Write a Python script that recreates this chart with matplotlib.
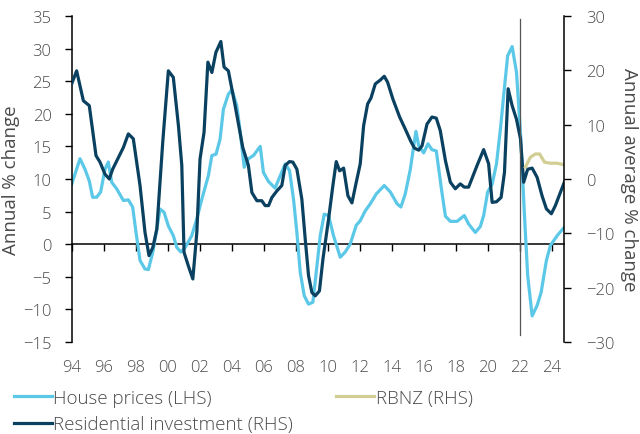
import matplotlib
matplotlib.use("Agg")
import matplotlib.pyplot as plt

plt.rcParams['font.family'] = ['Open Sans', 'DejaVu Sans']
plt.rcParams['font.weight'] = 'light'

# House prices (LHS) - annual % change, vertices (year, value)
hp_year = [1994.00, 1994.52, 1994.83, 1995.10, 1995.31, 1995.56, 1995.81, 1996.08, 1996.29, 1996.50,
           1996.81, 1997.23, 1997.54, 1997.81, 1998.02, 1998.27, 1998.58, 1998.79, 1999.07, 1999.32,
           1999.52, 1999.77, 2000.04, 2000.35, 2000.57, 2000.82, 2001.09, 2001.50, 2001.82, 2002.13,
           2002.54, 2002.76, 2003.02, 2003.27, 2003.48, 2003.79, 2004.01, 2004.32, 2004.53, 2004.78,
           2005.04, 2005.36, 2005.78, 2005.98, 2006.30, 2006.71, 2007.03, 2007.34, 2007.61, 2007.86,
           2008.07, 2008.28, 2008.53, 2008.80, 2009.07, 2009.28, 2009.53, 2009.78, 2010.05, 2010.36,
           2010.78, 2011.09, 2011.40, 2011.78, 2012.03, 2012.34, 2012.66, 2013.03, 2013.53, 2013.91,
           2014.33, 2014.57, 2014.84, 2015.16, 2015.36, 2015.51, 2015.68, 2015.99, 2016.26, 2016.51,
           2016.78, 2017.10, 2017.35, 2017.66, 2018.08, 2018.53, 2018.80, 2019.22, 2019.53, 2019.74,
           2019.99, 2020.27, 2020.54, 2020.79, 2020.99, 2021.24, 2021.52, 2021.79, 2022.04, 2022.29,
           2022.49, 2022.77, 2023.08, 2023.33, 2023.66, 2023.91, 2024.33, 2024.78]
hp_val = [9.2, 13.1, 11.5, 9.7, 7.2, 7.2, 8.0, 11.5, 12.6, 9.5,
          8.5, 6.7, 6.8, 5.7, 1.8, -2.5, -3.8, -3.9, -1.2, 2.3,
          5.4, 4.9, 2.8, 1.3, -0.5, -1.2, -0.5, 1.3, 3.9, 6.9,
          10.5, 13.6, 13.8, 16.1, 20.7, 23.0, 23.7, 21.2, 17.2, 11.8,
          13.1, 13.6, 15.0, 11.0, 9.6, 8.6, 10.5, 12.3, 11.3, 6.9,
          1.8, -4.3, -7.9, -9.2, -8.9, -4.3, 1.3, 4.6, 4.4, 1.3,
          -2.0, -1.2, 0.0, 2.9, 3.6, 5.1, 6.2, 7.7, 9.0, 8.0,
          6.2, 5.7, 7.7, 11.5, 14.9, 17.3, 15.1, 14.0, 15.4, 14.5,
          14.3, 8.5, 4.3, 3.5, 3.5, 4.4, 3.1, 1.8, 2.7, 4.4,
          8.0, 9.2, 12.3, 17.7, 22.8, 28.9, 30.3, 26.4, 17.2, 4.4,
          -4.8, -11.0, -9.4, -7.4, -2.5, -0.2, 1.3, 2.6]

# Residential investment (RHS) - annual average % change
ri_year = [1994.00, 1994.31, 1994.73, 1995.10, 1995.52, 1995.77, 1996.08, 1996.35, 1996.56, 1997.23,
           1997.54, 1997.85, 1998.27, 1998.58, 1998.83, 1999.07, 1999.32, 1999.69, 2000.04, 2000.35,
           2000.67, 2000.88, 2001.02, 2001.29, 2001.57, 2001.82, 2002.02, 2002.27, 2002.51, 2002.76,
           2003.01, 2003.32, 2003.52, 2003.79, 2004.21, 2004.69, 2005.04, 2005.26, 2005.57, 2005.88,
           2006.09, 2006.30, 2006.51, 2006.82, 2007.13, 2007.34, 2007.61, 2007.82, 2008.07, 2008.38,
           2008.59, 2008.80, 2009.01, 2009.22, 2009.48, 2009.70, 2010.05, 2010.32, 2010.53, 2010.74,
           2010.99, 2011.26, 2011.51, 2011.78, 2012.03, 2012.24, 2012.49, 2012.70, 2012.97, 2013.28,
           2013.53, 2013.74, 2014.07, 2014.49, 2014.84, 2015.16, 2015.41, 2015.68, 2015.89, 2016.20,
           2016.51, 2016.78, 2017.03, 2017.35, 2017.66, 2017.97, 2018.28, 2018.53, 2018.80, 2019.33,
           2019.74, 2020.05, 2020.27, 2020.54, 2020.83, 2021.04, 2021.27, 2021.52, 2021.79, 2022.04,
           2022.24, 2022.49, 2022.77, 2023.08, 2023.39, 2023.66, 2023.97, 2024.22, 2024.53, 2024.78]
ri_val = [17.5, 19.9, 14.4, 13.5, 4.3, 3.1, 0.9, 0.0, 1.8, 5.8,
          8.3, 7.4, -1.2, -9.8, -14.1, -12.6, -9.2, 6.8, 19.9, 18.7,
          9.8, 2.5, -13.5, -16.0, -18.4, -9.8, 3.7, 8.6, 21.5, 19.6,
          23.3, 25.3, 20.6, 19.9, 13.5, 5.8, 2.5, -2.5, -4.0, -4.0,
          -4.9, -4.9, -3.4, -2.2, -1.2, 2.5, 3.2, 3.1, 1.8, -3.7,
          -11.0, -17.8, -20.9, -21.5, -20.6, -14.7, -7.4, -1.2, 3.2, 1.5,
          2.0, -3.1, -4.4, -0.6, 2.8, 9.8, 13.8, 14.9, 17.5, 18.2,
          18.9, 17.8, 14.7, 11.4, 9.2, 7.1, 5.7, 5.3, 6.1, 10.1,
          11.4, 11.2, 8.9, 3.4, -0.6, -1.8, -0.9, -1.5, -1.5, 2.5,
          5.4, 2.8, -4.3, -4.2, -3.4, 1.2, 16.6, 13.5, 11.0, 7.4,
          -0.6, 1.8, 2.0, 0.3, -3.1, -5.5, -6.4, -4.9, -2.5, -0.6]

# RBNZ forecast (RHS)
rb_year = [2022.35, 2022.66, 2022.97, 2023.24, 2023.54, 2023.91, 2024.33, 2024.78]
rb_val = [2.2, 4.0, 4.6, 4.6, 3.1, 2.9, 2.9, 2.6]

xticks = list(range(1994, 2025, 2))
xlabels = [f"{y % 100:02d}" for y in xticks]

TXT = '#4a4a4a'
LIGHT = '#5BC8E8'
DARK = '#0B4160'
KHAKI = '#D2CD92'
FS = 12      # tick labels
FL = 13.5    # axis titles and legend

fig = plt.figure(figsize=(6.4, 4.35), dpi=100)
ax = fig.add_axes([0.112, 0.2115, 0.770, 0.7495])
ax2 = ax.twinx()

# left axis
ax.plot(hp_year, hp_val, color=LIGHT, lw=2.3, label='House prices (LHS)', solid_joinstyle='round')
ax.set_ylim(-15, 35)
ax.set_yticks(range(-15, 36, 5))
ax.set_xlim(1994, 2024.79)
ax.set_xticks(xticks)
ax.set_xticklabels(xlabels)
ax.tick_params(axis='x', length=0, pad=12, labelsize=FS, colors=TXT)
ax.tick_params(axis='y', length=5, width=1, labelsize=FS, colors='black', labelcolor=TXT, pad=9.5)
ax.set_ylabel('Annual % change', fontsize=FL, color=TXT, labelpad=2)

# right axis
ax2.plot(ri_year, ri_val, color=DARK, lw=2.3, label='Residential investment (RHS)', solid_joinstyle='round')
ax2.plot(rb_year, rb_val, color=KHAKI, lw=2.3, label='RBNZ (RHS)', solid_joinstyle='round')
ax2.set_ylim(-30, 30)
ax2.set_yticks(range(-30, 31, 10))
ax2.tick_params(axis='y', length=5, width=1, labelsize=FS, colors='black', labelcolor=TXT, pad=10.5)
ax2.set_ylabel('Annual average % change', fontsize=FL, color=TXT, rotation=270, labelpad=17)

for a in (ax, ax2):
    a.spines['top'].set_visible(False)
    a.spines['bottom'].set_visible(False)
    a.spines['left'].set_linewidth(1.1)
    a.spines['right'].set_linewidth(1.1)
ax2.spines['left'].set_visible(False)
ax.spines['right'].set_visible(False)

# zero line with ticks (at left-axis 0)
sec = ax.secondary_xaxis(0.3)
sec.set_xticks(xticks)
sec.tick_params(axis='x', length=5, width=1, direction='out', labelbottom=False)
sec.spines['bottom'].set_linewidth(1.1)

# forecast divider
ax2.axvline(2022.0, ymin=0.02, ymax=0.99, color='#555555', lw=0.9)

h1, l1 = ax.get_legend_handles_labels()
h2, l2 = ax2.get_legend_handles_labels()
handles = [h1[0], h2[0], h2[1]]
labels = [l1[0], l2[0], l2[1]]
fig.legend(handles, labels, loc='upper left', bbox_to_anchor=(0.022, 0.104), ncol=2,
           frameon=False, fontsize=FL, handlelength=2.0, handletextpad=0.1,
           columnspacing=2.3, labelspacing=0.45, borderpad=0, borderaxespad=0,
           labelcolor=TXT)

fig.savefig('out.png', dpi=100)
